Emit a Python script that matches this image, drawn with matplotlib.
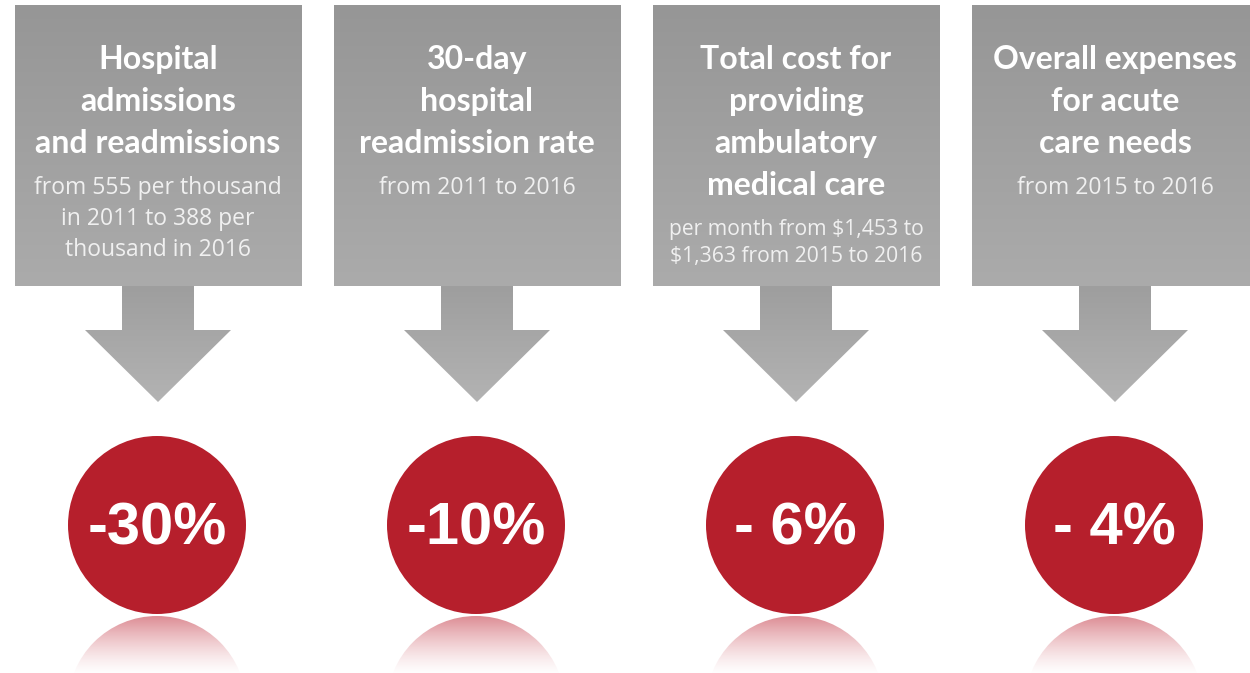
import numpy as np
import matplotlib.pyplot as plt
from matplotlib.patches import Polygon, Circle, Rectangle
from matplotlib.colors import LinearSegmentedColormap

# card texts
titles = ['Hospital\nadmissions\nand readmissions',
          '30-day\nhospital\nreadmission rate',
          'Total cost for\nproviding\nambulatory\nmedical care',
          'Overall expenses\nfor acute\ncare needs']
subtitles = ['from 555 per thousand\nin 2011 to 388 per\nthousand in 2016',
             'from 2011 to 2016',
             'per month from $1,453 to\n$1,363 from 2015 to 2016',
             'from 2015 to 2016']
changes = ['-30%', '-10%', '- 6%', '- 4%']

W, H = 1250, 673
fig = plt.figure(figsize=(W / 100, H / 100), dpi=100)
ax = fig.add_axes([0, 0, 1, 1])
ax.set_xlim(0, W)
ax.set_ylim(H, 0)
ax.axis('off')

box_cmap = LinearSegmentedColormap.from_list('box', ['#969696', '#ababab'])
arr_cmap = LinearSegmentedColormap.from_list('arr', ['#9e9e9e', '#b3b3b3'])
red = '#b61f2c'


def grad_fill(patch, cmap, x0, x1, y0, y1):
    ax.add_patch(patch)
    g = np.linspace(0, 1, 256).reshape(-1, 1)
    im = ax.imshow(g, cmap=cmap, extent=[x0, x1, y1, y0], aspect='auto',
                   interpolation='bicubic', zorder=1)
    im.set_clip_path(patch)
    patch.set_facecolor('none')
    patch.set_edgecolor('none')


bold = ['Lato', 'DejaVu Sans']
regular = ['Open Sans', 'DejaVu Sans']
for i in range(len(titles)):
    left = 15 + i * 319
    cx = left + 143
    top, bottom = 5, 286
    box = Rectangle((left, top), 287, bottom - top)
    grad_fill(box, box_cmap, left, left + 287, top, bottom)

    arrow = Polygon([(cx - 36, bottom), (cx + 36, bottom), (cx + 36, 330),
                     (cx + 73, 330), (cx, 402), (cx - 73, 330), (cx - 36, 330)])
    grad_fill(arrow, arr_cmap, cx - 73, cx + 73, bottom, 402)

    # title lines, then subtitle lines
    tlines = titles[i].split('\n')
    for k, line in enumerate(tlines):
        ax.text(cx, 69 + 42 * k, line, ha='center', va='baseline', color='white',
                fontsize=23, fontweight='bold', family=bold, zorder=3)
    sub_base = 69 + 42 * (len(tlines) - 1)
    small = i == 2
    for k, line in enumerate(subtitles[i].split('\n')):
        if small:
            y = sub_base + 40 + 27 * k
        else:
            y = sub_base + 41 + 31 * k
        ax.text(cx, y, line, ha='center', va='baseline', color='#f0f0f0',
                fontsize=15.2 if small else 16.5, family=regular, zorder=3)

    # red circle and its reflection
    ccx, ccy, r = cx - 1, 525, 89
    ax.add_patch(Circle((ccx, ccy), r, facecolor=red, edgecolor='none', zorder=2))
    refl = Circle((ccx, ccy + 2 * r + 2), r)
    ax.add_patch(refl)
    rgba = np.zeros((256, 1, 4))
    rgba[..., 0] = 0.78
    rgba[..., 1] = 0.25
    rgba[..., 2] = 0.3
    rgba[:, 0, 3] = np.clip(0.6 * (1 - np.linspace(0, 1, 256)) ** 1.4, 0, 1)
    im = ax.imshow(rgba, extent=[ccx - r, ccx + r, ccy + r + 62, ccy + r + 2],
                   aspect='auto', interpolation='bicubic', zorder=1)
    im.set_clip_path(refl)
    refl.set_facecolor('none')
    refl.set_edgecolor('none')

    ax.text(ccx, ccy + 4, changes[i], ha='center', va='center', color='white',
            fontsize=43, fontweight='bold', family=['Liberation Sans', 'DejaVu Sans'],
            zorder=3)

fig.savefig('out.png', dpi=100, facecolor='white')
